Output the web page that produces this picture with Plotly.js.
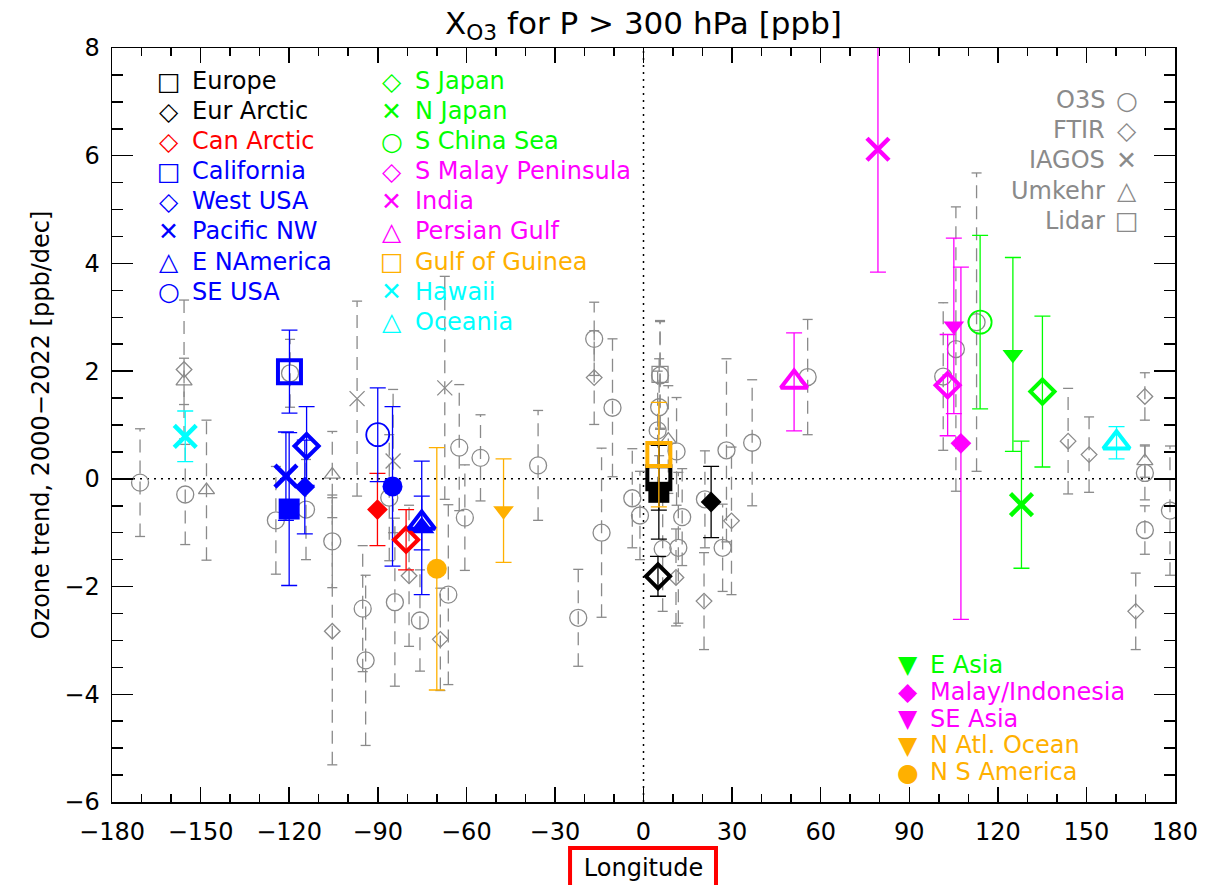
<!DOCTYPE html>
<html><head><meta charset="utf-8">
<script src="https://cdn.plot.ly/plotly-3.0.1.min.js"></script>
<style>html,body{margin:0;padding:0;background:#fff}</style>
</head><body><div id="chart" style="width:1219px;height:885px"></div>
<script>
// ---------- Background station data (grey, dashed error bars) ----------
const o3sLon = [-170.5,-155.2,-124.5,-119.7,-114.3,-105.4,-95.1,-94.1,-86.1,-84.2,-75.7,-66.1,-62.4,-60.5,-55.2,-35.7,-22.1,-16.7,-14.2,-10.5,-3.8,-1.2,5.3,4.8,11.2,13.1,6.5,11.8,20.8,26.8,28.1,36.8,55.6,101.5,105.8,112.8,169.8,169.8,178.3,5.6];
const o3sVal = [-0.07,-0.29,-0.77,1.96,-0.57,-1.16,-2.41,-3.37,-0.35,-2.29,-2.63,-2.15,0.58,-0.72,0.39,0.25,-2.58,2.60,-1.00,1.32,-0.36,-0.68,1.33,0.90,0.51,-0.71,-1.30,-1.28,-0.38,-1.28,0.53,0.67,1.89,1.90,2.41,2.91,0.11,-0.95,-0.59,1.92];
const o3sErr = [1.00,0.93,1.00,0.63,0.93,0.86,1.17,1.58,1.17,1.56,0.94,1.67,1.17,0.98,0.80,1.02,0.90,0.68,1.57,1.28,0.92,0.82,0.90,1.10,1.00,0.90,1.16,1.40,0.90,0.81,1.70,1.17,1.07,1.37,2.64,2.77,0.50,0.45,1.20,1.00];

const ftirLon = [-155.6,-105.4,-79.4,-68.8,-16.7,11.0,20.5,29.8,143.8,150.9,169.8,166.7];
const ftirVal = [2.03,-2.83,-1.80,-2.98,1.88,-1.83,-2.27,-0.78,0.70,0.45,1.53,-2.46];
const ftirErr = [1.29,2.48,1.31,0.95,0.87,0.90,0.90,1.37,0.98,0.70,0.44,0.71];

const iagosLon = [-97.0,-84.8,-67.3];
const iagosVal = [1.49,0.33,1.69];
const iagosErr = [1.81,1.33,2.07];

const umkehrLon = [-155.6,-148.0,-105.4,8.4,169.8];
const umkehrVal = [1.81,-0.21,0.08,0.73,0.33];
const umkehrErr = [0.43,1.30,0.80,1.00,0.30];

const lidarLon = [5.6];
const lidarVal = [1.94];
const lidarErr = [1.00];

const instrumentNames = ['O3S','FTIR','IAGOS','Umkehr','Lidar'];

// ---------- Regional means (open symbols) ----------
const regionNames = ['Europe','Eur Arctic','Can Arctic','California','West USA','Pacific NW','E NAmerica','SE USA','S Japan','N Japan','S China Sea','S Malay Peninsula','India','Persian Gulf','Gulf of Guinea','Hawaii','Oceania'];
const regionColors = ['#000000','#000000','#ff0000','#0000ff','#0000ff','#0000ff','#0000ff','#0000ff','#00ff00','#00ff00','#00ff00','#ff00ff','#ff00ff','#ff00ff','#ffb000','#00ffff','#00ffff'];
const regionSymbols = ['square-open','diamond-open','diamond-open','square-open','diamond-open','x-thin-open','triangle-up-open','circle-open','diamond-open','x-thin-open','circle-open','diamond-open','x-thin-open','triangle-up-open','square-open','x-thin-open','triangle-up-open'];
const regionLon = [5.2,4.9,-80.4,-119.9,-114.1,-121.1,-75.1,-90.0,135.1,128.0,114.0,103.0,79.4,51.0,5.2,-155.2,160.2];
const regionVal = [0.02,-1.81,-1.13,1.99,0.61,0.05,-0.82,0.82,1.62,-0.48,2.91,1.74,6.12,1.80,0.45,0.79,0.67];
const regionErr = [0.60,0.37,0.56,0.77,0.73,0.82,0.50,0.87,1.40,1.18,1.61,0.94,2.28,0.91,0.97,0.47,0.30];

// ---------- Large-area means (filled symbols) ----------
const areaNames = ['Europe (area)','Eur Arctic (area)','Can Arctic (area)','California (area)','West USA (area)','SE USA (area)','E NAmerica (area)','E Asia','Malay/Indonesia','SE Asia','N Atl. Ocean','N S America'];
const areaColors = ['#000000','#000000','#ff0000','#0000ff','#0000ff','#0000ff','#0000ff','#00ff00','#ff00ff','#ff00ff','#ffb000','#ffb000'];
const areaSymbols = ['square','diamond','diamond','square','diamond','circle','triangle-up','triangle-down','diamond','triangle-down','triangle-down','circle'];
const areaLon = [5.2,22.9,-90.1,-120.0,-114.7,-85.0,-75.1,125.1,107.5,105.1,-47.4,-70.0];
const areaVal = [-0.25,-0.43,-0.57,-0.56,-0.15,-0.14,-0.91,2.31,0.66,2.84,-0.59,-1.67];
const areaErr = [0.87,0.66,0.67,1.42,0.87,1.48,1.24,1.80,3.27,1.63,0.96,2.25];
const areaLegendIdx = [7,8,9,10,11];

const xTicks = [-180,-150,-120,-90,-60,-30,0,30,60,90,120,150,180];

// ---------- styles ----------
const FONT = 'DejaVu Sans';
const GREY = '#8a8a8a';
const CAP = 1.7; // half-width of grey caps in degrees
const openStyle = {'square-open':[23,4],'diamond-open':[18.5,4],'x-thin-open':[22,4.5],'triangle-up-open':[23,4],'circle-open':[23,1.8]};
const fillStyle = {'square':21,'diamond':16,'circle':20,'triangle-down':18,'triangle-up':22};
const greySym = {'O3S':['circle-open',17],'FTIR':['diamond-open',12],'IAGOS':['x-thin-open',15],'Umkehr':['triangle-up-open',14],'Lidar':['square-open',16]};
const glyph = {'square-open':'\u25A1','diamond-open':'\u25C7','x-thin-open':'\u2715','triangle-up-open':'\u25B3','circle-open':'\u25CB','triangle-down':'\u25BC','diamond':'\u25C6','circle':'\u25CF','square':'\u25A0'};

const inst = [[o3sLon,o3sVal,o3sErr],[ftirLon,ftirVal,ftirErr],[iagosLon,iagosVal,iagosErr],[umkehrLon,umkehrVal,umkehrErr],[lidarLon,lidarVal,lidarErr]];

const traces = [];
// dashed stems and caps
const sx=[], sy=[], cx=[], cy=[];
inst.forEach(([L,V,E])=>{
  for(let i=0;i<L.length;i++){
    sx.push(L[i],L[i],null); sy.push(V[i]-E[i],V[i]+E[i],null);
    cx.push(L[i]-CAP,L[i]+CAP,null,L[i]-CAP,L[i]+CAP,null);
    cy.push(V[i]+E[i],V[i]+E[i],null,V[i]-E[i],V[i]-E[i],null);
  }
});
traces.push({x:sx,y:sy,mode:'lines',line:{color:GREY,width:1.3,dash:'13px,8px'},hoverinfo:'skip'});
traces.push({x:cx,y:cy,mode:'lines',line:{color:GREY,width:1.3},hoverinfo:'skip'});
inst.forEach(([L,V,E],k)=>{
  const s = greySym[instrumentNames[k]];
  traces.push({x:L,y:V,mode:'markers',name:instrumentNames[k],
    marker:{symbol:s[0],size:s[1],color:GREY,line:{color:GREY,width:1.3}}});
});
// filled area means
areaNames.forEach((n,i)=>{
  traces.push({x:[areaLon[i]],y:[areaVal[i]],mode:'markers',name:n,
    marker:{symbol:areaSymbols[i],size:fillStyle[areaSymbols[i]],color:areaColors[i],line:{width:0}},
    error_y:{type:'data',array:[areaErr[i]],color:areaColors[i],thickness:1.3,width:8}});
});
// open regional means
regionNames.forEach((n,i)=>{
  const st = openStyle[regionSymbols[i]];
  traces.push({x:[regionLon[i]],y:[regionVal[i]],mode:'markers',name:n,
    marker:{symbol:regionSymbols[i],size:st[0],color:regionColors[i],line:{color:regionColors[i],width:st[1]}},
    error_y:{type:'data',array:[regionErr[i]],color:regionColors[i],thickness:1.3,width:8}});
});

// legends as text annotations
const ann = [];
const LF = 24;
function entry(symX, txtX, y, sym, txt, col, right){
  ann.push({xref:'paper',yref:'paper',x:symX,y:y,text:glyph[sym]||sym,showarrow:false,xanchor:'center',yanchor:'middle',font:{family:FONT,size:25,color:col}});
  ann.push({xref:'paper',yref:'paper',x:txtX,y:y,text:txt,showarrow:false,xanchor:right?'right':'left',yanchor:'middle',font:{family:FONT,size:LF,color:col}});
}
regionNames.forEach((n,i)=>{
  const col = i<8 ? 0 : 1;
  const row = i<8 ? i : i-8;
  const y = 0.9562 - row*0.0399;
  if(col===0) entry(0.0536,0.0734,y,regionSymbols[i],n,regionColors[i]);
  else entry(0.2634,0.2832,y,regionSymbols[i],n,regionColors[i]);
});
areaLegendIdx.forEach((i,r)=>{
  entry(0.7488,0.7676,0.1817-r*0.0355,areaSymbols[i],areaNames[i],areaColors[i]);
});
instrumentNames.forEach((n,r)=>{
  entry(0.9548,0.936,0.931-r*0.0400,greySym[n][0],n,GREY,true);
});

const axisCommon = {showline:true,linecolor:'black',linewidth:1.5,mirror:'allticks',ticks:'inside',tickcolor:'black',tickwidth:1.5,
  showgrid:false,zeroline:false,tickfont:{family:FONT,size:LF,color:'black'}};
const layout = {
  width:1219,height:885,margin:{l:112,r:44,t:48,b:83},
  paper_bgcolor:'#ffffff',plot_bgcolor:'#ffffff',showlegend:false,
  font:{family:FONT,size:LF,color:'black'},
  title:{text:'X<sub>O3</sub> for P > 300 hPa [ppb]',xref:'paper',x:0.5,xanchor:'center',yref:'container',y:0.974,yanchor:'middle',font:{family:FONT,size:31,color:'black'}},
  xaxis:Object.assign({},axisCommon,{range:[-180,180],tickmode:'array',tickvals:xTicks,ticklen:15,ticklabelstandoff:8,
    title:{text:'Longitude',font:{family:FONT,size:LF,color:'black'},standoff:14},
    minor:{dtick:10,tick0:0,ticks:'inside',ticklen:8,tickwidth:1.5,tickcolor:'black'}}),
  yaxis:Object.assign({},axisCommon,{range:[-6,8],dtick:2,tick0:0,ticklen:21,ticklabelstandoff:6,
    title:{text:'Ozone trend, 2000\u22122022 [ppb/dec]',font:{family:FONT,size:LF,color:'black'},standoff:8},
    minor:{dtick:0.5,tick0:0,ticks:'inside',ticklen:11,tickwidth:1.5,tickcolor:'black'}}),
  shapes:[
    {type:'line',xref:'x',yref:'y',x0:-180,x1:180,y0:0,y1:0,layer:'below',line:{color:'black',width:1.5,dash:'2px,5px'}},
    {type:'line',xref:'x',yref:'y',x0:0,x1:0,y0:-6,y1:8,layer:'below',line:{color:'black',width:1.5,dash:'2px,5px'}},
    {type:'rect',xref:'paper',yref:'paper',x0:0.4309,x1:0.5682,y0:-0.061,y1:-0.125,line:{color:'#ff0000',width:4},fillcolor:'rgba(0,0,0,0)'}
  ],
  annotations:ann
};
Plotly.newPlot('chart',traces,layout,{displayModeBar:false,staticPlot:true});
</script></body></html>
